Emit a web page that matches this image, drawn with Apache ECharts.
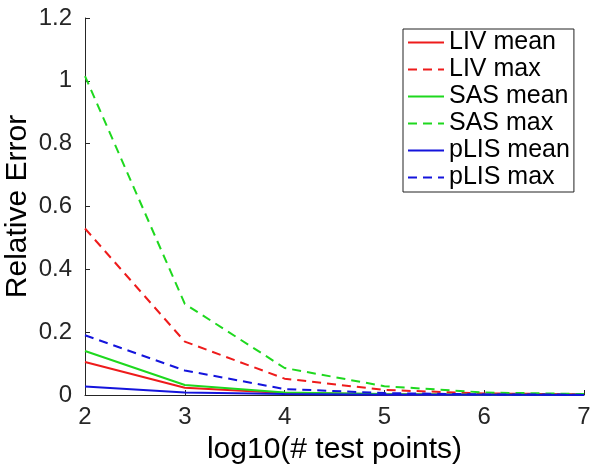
<!DOCTYPE html>
<html>
<head>
<meta charset="utf-8">
<script src="https://cdn.jsdelivr.net/npm/echarts@6/dist/echarts.min.js"></script>
<style>html,body{margin:0;padding:0;background:#fff}#c{width:600px;height:466px}</style>
</head>
<body>
<div id="c"></div>
<script>
const xValues = [2, 3, 4, 5, 6, 7];
const livMean  = [0.105, 0.023, 0.006, 0.002, 0.001, 0.0005];
const livMax   = [0.53, 0.17, 0.052, 0.016, 0.005, 0.002];
const sasMean  = [0.14, 0.032, 0.008, 0.003, 0.001, 0.0005];
const sasMax   = [1.015, 0.29, 0.086, 0.028, 0.008, 0.003];
const plisMean = [0.027, 0.008, 0.003, 0.001, 0.0005, 0.0002];
const plisMax  = [0.19, 0.078, 0.019, 0.006, 0.002, 0.001];
const seriesNames = ['LIV mean', 'LIV max', 'SAS mean', 'SAS max', 'pLIS mean', 'pLIS max'];

const RED = '#ee1b1b', GREEN = '#1ed81e', BLUE = '#1414dc';
const FONT = 'Liberation Sans';
const pairs = v => xValues.map((x, i) => [x, v[i]]);
function mk(name, data, color, dashed) {
  return {
    name, type: 'line', data: pairs(data), symbol: 'none', showSymbol: false,
    lineStyle: { color, width: 2, type: dashed ? [9, 6] : 'solid' },
    itemStyle: { color },
    animation: false
  };
}
const chart = echarts.init(document.getElementById('c'));
const axisCol = '#262626';
chart.setOption({
  animation: false,
  grid: { left: 85, right: 16, top: 18, bottom: 71, containLabel: false, outerBoundsMode: 'none' },
  legend: {
    orient: 'vertical', left: 403, top: 29,
    data: seriesNames,
    itemWidth: 36, itemHeight: 14, itemGap: 2,
    padding: [1, 4, 2, 4],
    borderColor: '#222', borderWidth: 1,
    itemStyle: { opacity: 0 },
    textStyle: { fontFamily: FONT, fontSize: 25, lineHeight: 25, color: '#000' }
  },
  xAxis: {
    type: 'value', min: 2, max: 7, interval: 1,
    name: 'log10(# test points)', nameLocation: 'middle', nameGap: 40,
    nameMoveOverlap: false,
    nameTextStyle: { fontFamily: FONT, fontSize: 30, color: '#000' },
    axisLine: { lineStyle: { color: axisCol, width: 1 } },
    axisTick: { inside: true, length: 5, lineStyle: { color: axisCol } },
    axisLabel: { fontFamily: FONT, fontSize: 24, color: '#262626', margin: 10 },
    splitLine: { show: false }
  },
  yAxis: {
    type: 'value', min: 0, max: 1.2, interval: 0.2,
    name: 'Relative Error', nameLocation: 'middle', nameGap: 52,
    nameMoveOverlap: false,
    nameTextStyle: { fontFamily: FONT, fontSize: 30, color: '#000' },
    axisLine: { show: true, lineStyle: { color: axisCol, width: 1 } },
    axisTick: { show: true, inside: true, length: 5, lineStyle: { color: axisCol } },
    axisLabel: { fontFamily: FONT, fontSize: 24, color: '#262626', margin: 13 },
    splitLine: { show: false }
  },
  series: [
    mk('LIV mean', livMean, RED, false),
    mk('LIV max', livMax, RED, true),
    mk('SAS mean', sasMean, GREEN, false),
    mk('SAS max', sasMax, GREEN, true),
    mk('pLIS mean', plisMean, BLUE, false),
    mk('pLIS max', plisMax, BLUE, true)
  ]
});
</script>
</body>
</html>
